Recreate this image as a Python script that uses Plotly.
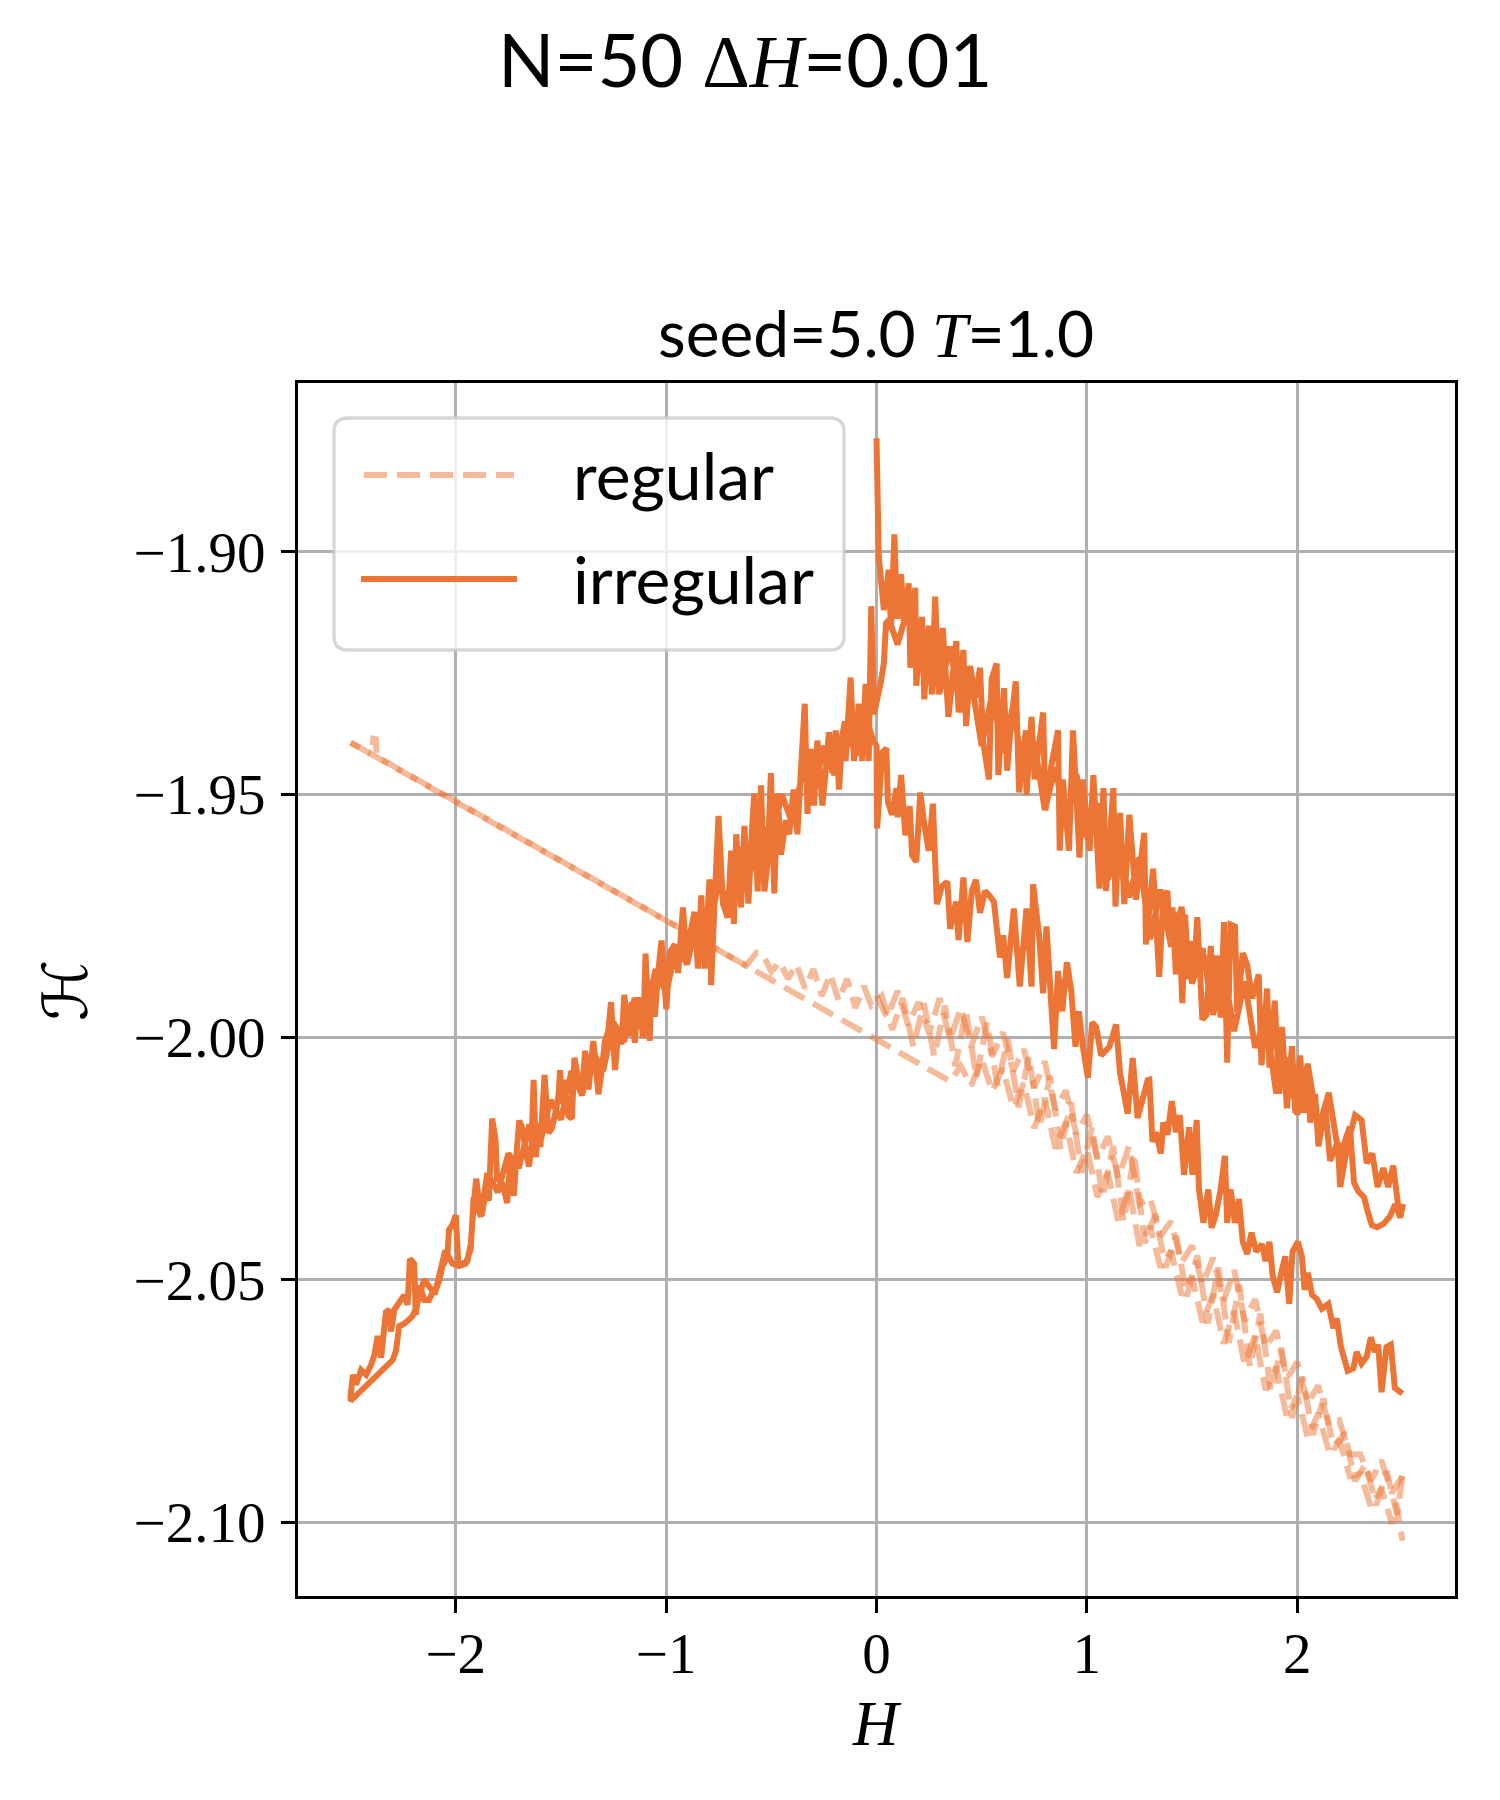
import plotly.graph_objects as go

# ---------------------------------------------------------------------------
# data (H, energy per spin)
# irregular graph: sweep 0 -> 2.5 -> 0 -> -2.5 -> 0 -> 2.5
# ---------------------------------------------------------------------------
irr_up_h = [0.000, 0.011, 0.035, 0.058, 0.069, 0.085, 0.098, 0.117, 0.129, 0.153,
            0.161, 0.184, 0.189, 0.216, 0.227, 0.248, 0.263, 0.279, 0.295, 0.315,
            0.342, 0.379, 0.390, 0.413, 0.426, 0.445, 0.470, 0.492, 0.508, 0.535,
            0.547, 0.571, 0.579, 0.606, 0.621, 0.640, 0.662, 0.678, 0.710, 0.713,
            0.737, 0.752, 0.792, 0.803, 0.831, 0.863, 0.871, 0.886, 0.915, 0.934,
            0.965, 0.981, 1.013, 1.031, 1.060, 1.079, 1.091, 1.126, 1.136, 1.158,
            1.178, 1.202, 1.233, 1.273, 1.281, 1.315, 1.344, 1.363, 1.383, 1.394,
            1.407, 1.423, 1.436, 1.454, 1.467, 1.483, 1.499, 1.510, 1.525, 1.549,
            1.568, 1.589, 1.604, 1.620, 1.636, 1.652, 1.667, 1.683, 1.704, 1.715,
            1.741, 1.762, 1.786, 1.817, 1.830, 1.857, 1.868, 1.893, 1.915, 1.928,
            1.951, 1.975, 1.991, 2.014, 2.030, 2.046, 2.062, 2.085, 2.101, 2.133,
            2.156, 2.193, 2.204, 2.240, 2.275, 2.306, 2.330, 2.357, 2.382, 2.409,
            2.432, 2.456, 2.480, 2.500]
irr_up_v = [-1.8766, -1.9010, -1.9120, -1.9037, -1.9161, -1.8964, -1.9138, -1.9046, -1.9143, -1.9065,
            -1.9239, -1.9074, -1.9276, -1.9134, -1.9304, -1.9152, -1.9294, -1.9092, -1.9294, -1.9157,
            -1.9340, -1.9184, -1.9331, -1.9202, -1.9359, -1.9235, -1.9300, -1.9239, -1.9395, -1.9469,
            -1.9262, -1.9230, -1.9460, -1.9281, -1.9451, -1.9350, -1.9267, -1.9496, -1.9368, -1.9501,
            -1.9340, -1.9469, -1.9331, -1.9533, -1.9441, -1.9368, -1.9616, -1.9469, -1.9616, -1.9368,
            -1.9630, -1.9469, -1.9616, -1.9460, -1.9694, -1.9487, -1.9699, -1.9487, -1.9731, -1.9538,
            -1.9726, -1.9542, -1.9717, -1.9579, -1.9809, -1.9653, -1.9876, -1.9713, -1.9699, -1.9802,
            -1.9733, -1.9871, -1.9743, -1.9930, -1.9748, -1.9881, -1.9802, -1.9861, -1.9753, -1.9964,
            -1.9955, -1.9812, -1.9930, -1.9832, -1.9960, -1.9763, -2.0053, -1.9768, -1.9772, -1.9950,
            -1.9827, -1.9851, -1.9920, -1.9871, -2.0058, -1.9900, -2.0063, -1.9925, -2.0117, -1.9979,
            -2.0147, -2.0019, -2.0156, -2.0038, -2.0156, -2.0078, -2.0176, -2.0117, -2.0225, -2.0142,
            -2.0255, -2.0216, -2.0309, -2.0220, -2.0161, -2.0171, -2.0260, -2.0240, -2.0309, -2.0270,
            -2.0309, -2.0265, -2.0348, -2.0350]

irr_back_h = [2.500, 2.490, 2.465, 2.440, 2.410, 2.380, 2.355, 2.335, 2.318, 2.290,
              2.270, 2.250, 2.200, 2.150, 2.100, 2.050, 2.000, 1.950, 1.900, 1.850,
              1.800, 1.750, 1.700, 1.650, 1.600, 1.550, 1.500, 1.450, 1.400, 1.350,
              1.300, 1.250, 1.200, 1.150, 1.100, 1.050, 1.000, 0.950, 0.900, 0.850,
              0.800, 0.750, 0.700, 0.650, 0.600, 0.550, 0.500, 0.450, 0.400, 0.350,
              0.300, 0.250, 0.200, 0.150, 0.100, 0.060, 0.045, 0.035, 0.020, 0.005]
irr_back_v = [-2.0350, -2.0372, -2.0345, -2.0370, -2.0385, -2.0392, -2.0388, -2.0360, -2.0330, -2.0318,
              -2.0300, -2.0185, -2.0250, -2.0115, -2.0190, -2.0055, -2.0160, -2.0043, -2.0116, -1.9959,
              -2.0022, -1.9885, -1.9988, -1.9861, -1.9954, -1.9817, -1.9890, -1.9732, -1.9814, -1.9696,
              -1.9798, -1.9630, -1.9712, -1.9594, -1.9676, -1.9518, -1.9590, -1.9458, -1.9566, -1.9444,
              -1.9532, -1.9390, -1.9468, -1.9316, -1.9414, -1.9292, -1.9400, -1.9265, -1.9330, -1.9195,
              -1.9290, -1.9165, -1.9240, -1.9116, -1.9191, -1.9140, -1.9147, -1.9230, -1.9270, -1.9300]

irr_left_out_h = [-0.012, -0.025, -0.037, -0.052, -0.068, -0.084, -0.107, -0.123, -0.147, -0.163,
                  -0.178, -0.194, -0.210, -0.226, -0.241, -0.257, -0.281, -0.297, -0.312, -0.328,
                  -0.341, -0.360, -0.376, -0.394, -0.415, -0.431, -0.454, -0.470, -0.486, -0.502,
                  -0.518, -0.533, -0.549, -0.565, -0.581, -0.593, -0.609, -0.628, -0.644, -0.667,
                  -0.678, -0.691, -0.707, -0.730, -0.751, -0.770, -0.786, -0.794, -0.817, -0.833,
                  -0.849, -0.865, -0.888, -0.904, -0.920, -0.943, -0.959, -0.983, -0.999, -1.022,
                  -1.038, -1.054, -1.070, -1.078, -1.098, -1.109, -1.133, -1.149, -1.164, -1.180,
                  -1.199, -1.212, -1.228, -1.243, -1.262, -1.275, -1.291, -1.306, -1.322, -1.346,
                  -1.369, -1.385, -1.401, -1.417, -1.436, -1.448, -1.464, -1.480, -1.496, -1.504,
                  -1.511, -1.527, -1.543, -1.559, -1.578, -1.598, -1.606, -1.619, -1.630, -1.641,
                  -1.653, -1.669, -1.685, -1.698, -1.709, -1.724, -1.740, -1.756, -1.772, -1.788,
                  -1.803, -1.811, -1.827, -1.843, -1.858, -1.877, -1.890, -1.903, -1.914, -1.929,
                  -1.945, -1.969, -1.988, -2.000, -2.016, -2.032, -2.040, -2.063, -2.079, -2.095,
                  -2.111, -2.127, -2.150, -2.171, -2.190, -2.198, -2.218, -2.229, -2.245, -2.269,
                  -2.292, -2.308, -2.316, -2.332, -2.355, -2.371, -2.387, -2.403, -2.426, -2.450,
                  -2.474, -2.489, -2.500]
irr_left_out_v = [-1.9335, -1.9112, -1.9431, -1.9272, -1.9431, -1.9313, -1.9431, -1.9259, -1.9431, -1.9381,
                  -1.9490, -1.9368, -1.9456, -1.9372, -1.9448, -1.9523, -1.9389, -1.9523, -1.9406, -1.9540,
                  -1.9313, -1.9456, -1.9582, -1.9490, -1.9582, -1.9553, -1.9624, -1.9498, -1.9704, -1.9456,
                  -1.9641, -1.9700, -1.9481, -1.9700, -1.9498, -1.9582, -1.9725, -1.9565, -1.9733, -1.9582,
                  -1.9767, -1.9616, -1.9754, -1.9725, -1.9544, -1.9725, -1.9893, -1.9675, -1.9859, -1.9708,
                  -1.9859, -1.9742, -1.9792, -1.9834, -1.9733, -1.9868, -1.9809, -1.9826, -1.9943, -1.9801,
                  -1.9868, -1.9958, -1.9888, -2.0008, -1.9828, -2.0002, -1.9918, -2.0012, -1.9928, -1.9998,
                  -1.9913, -2.0015, -1.9990, -2.0068, -1.9928, -1.9988, -2.0008, -2.0068, -2.0118, -2.0008,
                  -2.0108, -2.0028, -2.0118, -2.0088, -2.0043, -2.0168, -2.0163, -2.0088, -2.0138, -2.0068,
                  -2.0118, -2.0158, -2.0188, -2.0198, -2.0078, -2.0227, -2.0177, -2.0247, -2.0088, -2.0237,
                  -2.0267, -2.0227, -2.0187, -2.0172, -2.0227, -2.0327, -2.0252, -2.0342, -2.0312, -2.0292,
                  -2.0297, -2.0212, -2.0168, -2.0337, -2.0322, -2.0367, -2.0337, -2.0292, -2.0342, -2.0427,
                  -2.0462, -2.0467, -2.0467, -2.0367, -2.0387, -2.0397, -2.0452, -2.0472, -2.0502, -2.0522,
                  -2.0527, -2.0542, -2.0542, -2.0512, -2.0572, -2.0467, -2.0457, -2.0552, -2.0532, -2.0547,
                  -2.0562, -2.0607, -2.0562, -2.0567, -2.0661, -2.0616, -2.0656, -2.0676, -2.0696, -2.0686,
                  -2.0716, -2.0696, -2.0740]

irr_left_ret_h = [-2.500, -2.300, -2.284, -2.269, -2.245, -2.206, -2.190, -2.150, -2.100, -2.050,
                  -2.016, -1.985, -1.953, -1.929, -1.915, -1.880, -1.850, -1.800, -1.750, -1.700,
                  -1.650, -1.600, -1.550, -1.500, -1.450, -1.400, -1.350, -1.300, -1.250, -1.200,
                  -1.150, -1.100, -1.050, -1.000, -0.950, -0.900, -0.850, -0.800, -0.750, -0.700,
                  -0.650, -0.600, -0.550, -0.500, -0.450, -0.400, -0.350, -0.300, -0.250, -0.200,
                  -0.150, -0.100, -0.050, -0.015, 0.000]
irr_left_ret_v = [-2.0750, -2.0666, -2.0646, -2.0596, -2.0591, -2.0576, -2.0560, -2.0500, -2.0530, -2.0440,
                  -2.0467, -2.0472, -2.0467, -2.0437, -2.0330, -2.0370, -2.0280, -2.0320, -2.0240, -2.0270,
                  -2.0180, -2.0220, -2.0130, -2.0170, -2.0070, -2.0120, -2.0030, -2.0070, -1.9970, -2.0010,
                  -1.9920, -1.9960, -1.9860, -1.9910, -1.9810, -1.9850, -1.9750, -1.9790, -1.9680, -1.9730,
                  -1.9610, -1.9660, -1.9560, -1.9600, -1.9500, -1.9560, -1.9450, -1.9500, -1.9400, -1.9460,
                  -1.9350, -1.9420, -1.9340, -1.9390, -1.9400]

irr_low_h = [0.003, 0.027, 0.047, 0.054, 0.074, 0.095, 0.101, 0.117, 0.137, 0.158,
             0.169, 0.189, 0.208, 0.227, 0.248, 0.268, 0.287, 0.311, 0.337, 0.350,
             0.378, 0.390, 0.413, 0.432, 0.453, 0.473, 0.492, 0.516, 0.536, 0.558,
             0.587, 0.602, 0.621, 0.653, 0.681, 0.713, 0.737, 0.744, 0.773, 0.792,
             0.808, 0.844, 0.863, 0.883, 0.905, 0.926, 0.946, 0.962, 0.981, 1.005,
             1.025, 1.044, 1.068, 1.107, 1.139, 1.158, 1.194, 1.218, 1.241, 1.289,
             1.297, 1.312, 1.328, 1.352, 1.363, 1.383, 1.404, 1.423, 1.442, 1.462,
             1.486, 1.502, 1.522, 1.533, 1.554, 1.577, 1.593, 1.612, 1.636, 1.656,
             1.667, 1.683, 1.704, 1.723, 1.741, 1.762, 1.783, 1.805, 1.833, 1.849,
             1.868, 1.883, 1.904, 1.924, 1.943, 1.962, 1.978, 2.003, 2.022, 2.035,
             2.051, 2.070, 2.093, 2.117, 2.148, 2.172, 2.188, 2.208, 2.240, 2.267,
             2.282, 2.306, 2.330, 2.350, 2.369, 2.385, 2.401, 2.424, 2.445, 2.464,
             2.492, 2.500]
irr_low_v = [-1.9570, -1.9414, -1.9405, -1.9515, -1.9542, -1.9487, -1.9547, -1.9460, -1.9584, -1.9524,
             -1.9625, -1.9639, -1.9496, -1.9561, -1.9616, -1.9519, -1.9726, -1.9689, -1.9680, -1.9777,
             -1.9721, -1.9800, -1.9671, -1.9804, -1.9699, -1.9676, -1.9744, -1.9699, -1.9708, -1.9721,
             -1.9836, -1.9790, -1.9878, -1.9735, -1.9896, -1.9735, -1.9896, -1.9685, -1.9790, -1.9910,
             -1.9772, -2.0025, -1.9864, -1.9947, -1.9846, -1.9905, -2.0020, -1.9947, -2.0020, -2.0084,
             -1.9970, -1.9979, -2.0038, -2.0020, -1.9974, -2.0075, -2.0158, -2.0043, -2.0167, -2.0089,
             -2.0088, -2.0216, -2.0196, -2.0240, -2.0176, -2.0201, -2.0132, -2.0196, -2.0161, -2.0284,
             -2.0186, -2.0284, -2.0171, -2.0314, -2.0383, -2.0314, -2.0393, -2.0368, -2.0314, -2.0245,
             -2.0383, -2.0314, -2.0383, -2.0334, -2.0422, -2.0447, -2.0403, -2.0442, -2.0427, -2.0462,
             -2.0422, -2.0491, -2.0526, -2.0486, -2.0452, -2.0550, -2.0442, -2.0422, -2.0452, -2.0521,
             -2.0486, -2.0531, -2.0540, -2.0560, -2.0550, -2.0600, -2.0580, -2.0639, -2.0688, -2.0683,
             -2.0649, -2.0673, -2.0659, -2.0619, -2.0649, -2.0634, -2.0732, -2.0639, -2.0634, -2.0723,
             -2.0732, -2.0735]

# regular graph: three passes
reg_a_h = [0.00, 0.05, 0.10, 0.15, 0.20, 0.25, 0.30, 0.35, 0.40, 0.45,
           0.50, 0.55, 0.60, 0.65, 0.70, 0.75, 0.80, 0.85, 0.90, 0.95,
           1.00, 1.05, 1.10, 1.15, 1.20, 1.25, 1.30, 1.35, 1.40, 1.45,
           1.50, 1.55, 1.60, 1.65, 1.70, 1.75, 1.80, 1.85, 1.90, 1.95,
           2.00, 2.05, 2.10, 2.15, 2.20, 2.25, 2.30, 2.35, 2.40, 2.45,
           2.50]
reg_a_v = [-1.9915, -1.9960, -1.9905, -1.9975, -1.9928, -1.9992, -1.9920, -2.0005, -1.9940, -2.0020,
           -1.9958, -2.0040, -1.9990, -2.0070, -2.0025, -2.0105, -2.0050, -2.0150, -2.0110, -2.0200,
           -2.0160, -2.0250, -2.0205, -2.0290, -2.0225, -2.0345, -2.0330, -2.0410, -2.0380, -2.0465,
           -2.0430, -2.0510, -2.0455, -2.0545, -2.0480, -2.0585, -2.0540, -2.0640, -2.0605, -2.0705,
           -2.0670, -2.0755, -2.0718, -2.0800, -2.0790, -2.0860, -2.0860, -2.0915, -2.0872, -2.0940,
           -2.0905]

reg_b_h = [2.500, 2.475, 2.425, 2.375, 2.325, 2.275, 2.225, 2.175, 2.125, 2.075,
           2.025, 1.975, 1.925, 1.875, 1.825, 1.775, 1.725, 1.675, 1.625, 1.575,
           1.525, 1.475, 1.425, 1.375, 1.325, 1.275, 1.225, 1.175, 1.125, 1.075,
           1.025, 0.975, 0.925, 0.875, 0.825, 0.775, 0.725, 0.675, 0.625, 0.575,
           0.525, 0.475, 0.425, 0.375, 0.325, 0.275, 0.225, 0.175, 0.125, 0.075,
           0.025, -0.025, -0.060, -0.100, -0.140, -0.180, -0.220, -0.260, -0.300, -0.340,
           -0.380, -0.420, -0.460, -0.500, -0.540, -0.570, -0.620, -2.500]
reg_b_v = [-2.0905, -2.0985, -2.0895, -2.0965, -2.0880, -2.0915, -2.0815, -2.0850, -2.0745, -2.0820,
           -2.0700, -2.0785, -2.0640, -2.0730, -2.0570, -2.0680, -2.0510, -2.0630, -2.0475, -2.0590,
           -2.0450, -2.0535, -2.0410, -2.0475, -2.0365, -2.0425, -2.0240, -2.0380, -2.0225, -2.0330,
           -2.0185, -2.0280, -2.0135, -2.0230, -2.0080, -2.0185, -2.0040, -2.0145, -2.0005, -2.0100,
           -1.9970, -2.0085, -1.9945, -2.0060, -1.9935, -2.0040, -1.9930, -2.0020, -1.9920, -1.9985,
           -1.9915, -1.9935, -1.9895, -1.9940, -1.9880, -1.9925, -1.9870, -1.9915, -1.9860, -1.9900,
           -1.9850, -1.9880, -1.9845, -1.9865, -1.9830, -1.9826, -1.9853, -1.9393]

reg_c_h = [-2.500, -2.400, -2.392, -2.380, -2.376, 0.000, 0.350,
           0.40, 0.45, 0.50, 0.55, 0.60, 0.65, 0.70, 0.75, 0.80, 0.85,
           0.90, 0.95, 1.00, 1.05, 1.10, 1.15, 1.20, 1.25, 1.30, 1.35,
           1.40, 1.45, 1.50, 1.55, 1.60, 1.65, 1.70, 1.75, 1.80, 1.85,
           1.90, 1.95, 2.00, 2.05, 2.10, 2.15, 2.20, 2.25, 2.30, 2.35,
           2.40, 2.45, 2.47, 2.50]
reg_c_v = [-1.9393, -1.9417, -1.9385, -1.9386, -1.9422, -2.0005, -2.0091,
           -2.0060, -2.0100, -2.0045, -2.0112, -2.0065, -2.0145, -2.0095, -2.0188, -2.0125, -2.0230,
           -2.0175, -2.0280, -2.0230, -2.0330, -2.0280, -2.0383, -2.0310, -2.0430, -2.0390, -2.0475,
           -2.0440, -2.0532, -2.0495, -2.0588, -2.0530, -2.0632, -2.0565, -2.0675, -2.0615, -2.0728,
           -2.0680, -2.0783, -2.0740, -2.0825, -2.0775, -2.0853, -2.0830, -2.0905, -2.0900, -2.0968,
           -2.0930, -2.1003, -2.0960, -2.1038]

x_ticks = [-2, -1, 0, 1, 2]
y_ticks = [-2.10, -2.05, -2.00, -1.95, -1.90]

# ---------------------------------------------------------------------------
ORANGE = "#ec7535"
LIGHT = "rgba(236,117,53,0.5)"
SANS = "Lato"
SERIF = "Liberation Serif"

W, HGT = 1500, 1800
L, R, T, B = 298, 1455, 383, 1596


def paper(x, y):
    return (x - L) / (R - L), (B - y) / (B - T)


fig = go.Figure()

for hs, vs in [(reg_a_h, reg_a_v), (reg_b_h, reg_b_v), (reg_c_h, reg_c_v)]:
    fig.add_trace(go.Scatter(x=hs, y=vs, mode="lines", showlegend=False, hoverinfo="skip",
                             line=dict(color=LIGHT, width=6, dash="23px,10px", simplify=False)))

irr_h = irr_up_h + irr_back_h + irr_left_out_h + irr_left_ret_h + irr_low_h
irr_v = irr_up_v + irr_back_v + irr_left_out_v + irr_left_ret_v + irr_low_v
fig.add_trace(go.Scatter(x=irr_h, y=irr_v, mode="lines", showlegend=False, hoverinfo="skip",
                         line=dict(color=ORANGE, width=6, simplify=False)))

axis_style = dict(showgrid=True, gridcolor="#b0b0b0", gridwidth=2.7, zeroline=False,
                  showline=True, mirror=True, linecolor="black", linewidth=3.3,
                  ticks="outside", ticklen=14, tickwidth=3.3, tickcolor="black",
                  tickfont=dict(family=SERIF, size=57, color="black"))
fig.update_xaxes(range=[-2.75, 2.75], tickvals=x_ticks, ticklabelstandoff=-9, **axis_style)
fig.update_yaxes(range=[-2.1152, -1.8652], tickvals=y_ticks, tickformat=".2f",
                 ticklabelstandoff=4, **axis_style)

# legend drawn by hand so the samples match the reference length
bx0, by0, bx1, by1, rad = 334, 418, 844, 650, 14
pts = [("M", bx0 + rad, by0), ("L", bx1 - rad, by0), ("Q", bx1, by0, bx1, by0 + rad),
       ("L", bx1, by1 - rad), ("Q", bx1, by1, bx1 - rad, by1), ("L", bx0 + rad, by1),
       ("Q", bx0, by1, bx0, by1 - rad), ("L", bx0, by0 + rad), ("Q", bx0, by0, bx0 + rad, by0)]
path = ""
for p in pts:
    cmd, coords = p[0], p[1:]
    path += cmd
    for i in range(0, len(coords), 2):
        px, py = paper(coords[i], coords[i + 1])
        path += f"{px:.5f},{py:.5f} "
path += "Z"

shapes = [dict(type="path", xref="paper", yref="paper", path=path, layer="above",
               fillcolor="rgba(255,255,255,0.8)", line=dict(color="rgba(204,204,204,0.8)", width=3.3))]
for (x0, x1, yy, col, dash) in [(364, 514, 475, LIGHT, "23px,10px"), (361, 517, 579, ORANGE, "solid")]:
    a0, b0 = paper(x0, yy)
    a1, _ = paper(x1, yy)
    shapes.append(dict(type="line", xref="paper", yref="paper", x0=a0, x1=a1, y0=b0, y1=b0,
                       layer="above", line=dict(color=col, width=6, dash=dash)))

annotations = []


def text(x, y, s, size, family=SANS, anchor="center", angle=0):
    ax, ay = paper(x, y)
    annotations.append(dict(x=ax, y=ay, xref="paper", yref="paper", text=s, showarrow=False,
                            xanchor=anchor, yanchor="middle", textangle=angle,
                            font=dict(family=family, size=size, color="black")))


text(745, 58, 'N=50 <span style="font-family:Liberation Serif">Δ<i>H</i></span>=0.01', 74)
text(876, 333, 'seed=5.0 <span style="font-family:Liberation Serif"><i>T</i></span>=1.0', 64)
text(571, 475, "regular", 66, anchor="left")
text(571, 578, "irregular", 66, anchor="left")
text(877, 1724, "<i>H</i>", 63, family=SERIF)
text(65, 991, "ℋ", 62, family="DejaVu Sans", angle=-90)

fig.update_layout(width=W, height=HGT, margin=dict(l=L, r=W - R, t=T, b=HGT - B, pad=0),
                  paper_bgcolor="white", plot_bgcolor="white", showlegend=False,
                  shapes=shapes, annotations=annotations)

fig.write_html("out.html", config={"displayModeBar": False},
               post_script="document.body.style.margin='0';")
